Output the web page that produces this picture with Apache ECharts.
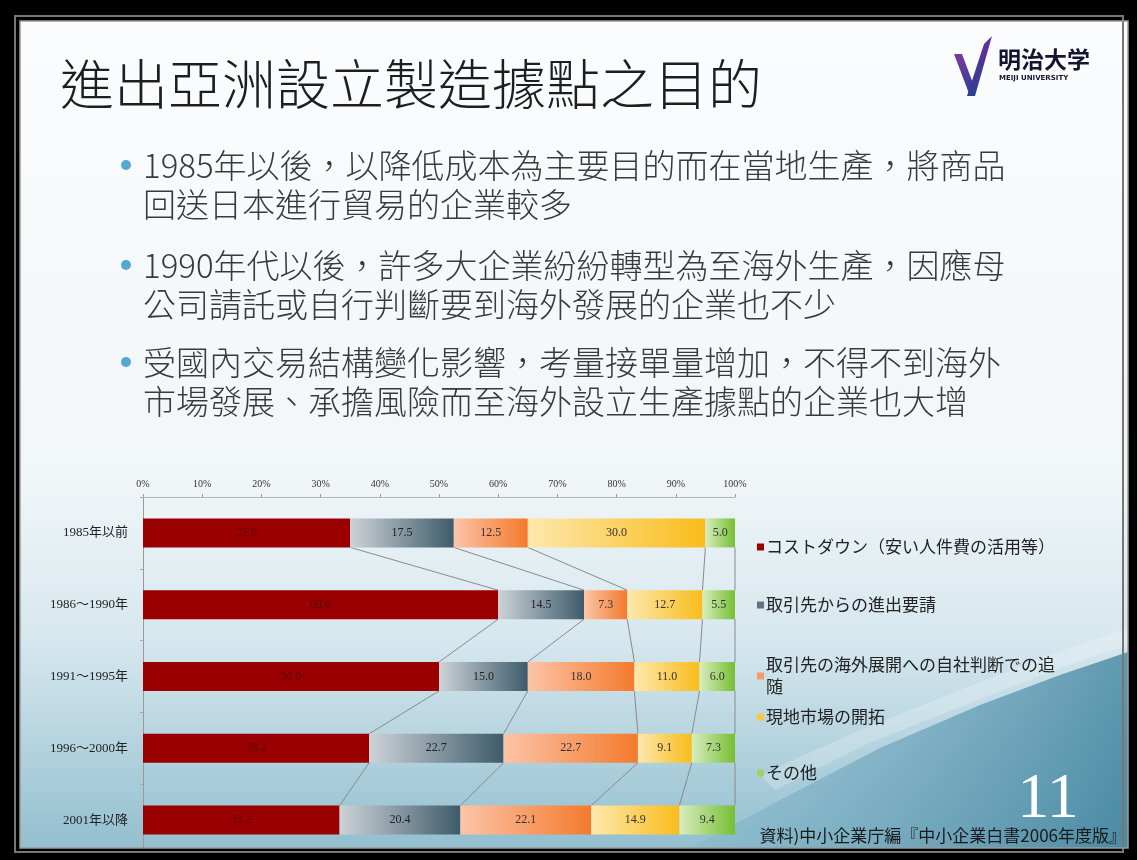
<!DOCTYPE html>
<html>
<head>
<meta charset="utf-8">
<script src="https://cdn.jsdelivr.net/npm/echarts@6/dist/echarts.min.js"></script>
<style>
    html, body { margin: 0; padding: 0; background: #000; }
    #main { width: 1137px; height: 860px; }
</style>
</head>
<body>
<div id="main"></div>
<script>
// 資料
var categories = ['1985年以前', '1986～1990年', '1991～1995年', '1996～2000年', '2001年以降'];
var seriesNames = [
    'コストダウン（安い人件費の活用等）',
    '取引先からの進出要請',
    '取引先の海外展開への自社判断での追随',
    '現地市場の開拓',
    'その他'
];
var costDown      = [35.0, 60.0, 50.0, 38.2, 33.2];
var clientRequest = [17.5, 14.5, 15.0, 22.7, 20.4];
var followClient  = [12.5,  7.3, 18.0, 22.7, 22.1];
var localMarket   = [30.0, 12.7, 11.0,  9.1, 14.9];
var others        = [ 5.0,  5.5,  6.0,  7.3,  9.4];
var xTickLabels   = ['0%', '10%', '20%', '30%', '40%', '50%', '60%', '70%', '80%', '90%', '100%'];

var bulletLines = [
    ['1985年以後，以降低成本為主要目的而在當地生產，將商品', '回送日本進行貿易的企業較多'],
    ['1990年代以後，許多大企業紛紛轉型為至海外生產，因應母', '公司請託或自行判斷要到海外發展的企業也不少'],
    ['受國內交易結構變化影響，考量接單量增加，不得不到海外', '市場發展、承擔風險而至海外設立生產據點的企業也大增']
];

var allValues = [costDown, clientRequest, followClient, localMarket, others];
var barWidth = 29;
var serifFont = '"Liberation Serif", "Noto Sans CJK JP", serif';
var cjkTC = '"Noto Sans CJK TC", sans-serif';
var cjkJP = '"Noto Sans CJK JP", sans-serif';

// 顏色(漸層)
var lg = echarts.graphic.LinearGradient;
var barColors = [
    '#9a0000',
    new lg(0, 0, 1, 0, [{offset: 0, color: '#cdd3d7'}, {offset: 1, color: '#3e5b6b'}]),
    new lg(0, 0, 1, 0, [{offset: 0, color: '#fcc4a8'}, {offset: 1, color: '#f47a2c'}]),
    new lg(0, 0, 1, 0, [{offset: 0, color: '#fde8ae'}, {offset: 1, color: '#f9bc1a'}]),
    new lg(0, 0, 1, 0, [{offset: 0, color: '#d8edbc'}, {offset: 1, color: '#76be33'}])
];
var legendColors = ['#9a0000', '#5e7380', '#f79a6c', '#fbc644', '#9fd26a'];
var labelColors = ['#5c0000', '#222', '#333', '#333', '#333'];

// 累計 -> 系列線
var cum = categories.map(function(c, i) {
    var s = 0;
    return allValues.map(function(arr) { s += arr[i]; return Math.round(s * 10) / 10; });
});
var seriesLineData = [];
for (var k = 0; k < allValues.length; k++) {
    for (var i = 0; i < categories.length - 1; i++) {
        seriesLineData.push([cum[i][k], i, cum[i + 1][k], i + 1]);
    }
}

var series = allValues.map(function(arr, idx) {
    return {
        name: seriesNames[idx],
        type: 'bar',
        stack: 'total',
        barWidth: barWidth,
        itemStyle: { color: barColors[idx] },
        label: {
            show: true,
            position: 'inside',
            fontFamily: serifFont,
            fontSize: 12,
            color: labelColors[idx],
            formatter: function(p) { return p.value.toFixed(1); }
        },
        data: arr
    };
});
series.push({
    type: 'custom',
    name: 'seriesLines',
    silent: true,
    z: 1,
    renderItem: function(params, api) {
        var a = api.coord([api.value(0), api.value(1)]);
        var b = api.coord([api.value(2), api.value(3)]);
        var h = barWidth / 2;
        return {
            type: 'line',
            shape: { x1: a[0], y1: a[1] + h, x2: b[0], y2: b[1] - h },
            style: { stroke: '#8a8a8a', lineWidth: 1 }
        };
    },
    data: seriesLineData
});

// 圖例(各自位置)
var legendCenters = [547, 605, 676, 717, 773];
var legends = seriesNames.map(function(n, idx) {
    var lines = idx === 2 ? 2 : 1;
    return {
        data: [{ name: n, itemStyle: { color: legendColors[idx] } }],
        left: 757,
        top: legendCenters[idx] - lines * 11,
        padding: 0,
        icon: 'rect',
        itemWidth: 7,
        itemHeight: 7,
        itemGap: 0,
        selectedMode: false,
        formatter: function(name) {
            return name === seriesNames[2] ? '取引先の海外展開への自社判断での追\n随' : name;
        },
        textStyle: { fontFamily: cjkJP, fontSize: 17, color: '#222', lineHeight: 22, padding: [0, 0, 0, -3] }
    };
});

// 背景與文字
var graphics = [
    { type: 'rect', z: -20, shape: { x: 20, y: 21, width: 1108, height: 827 },
      style: { fill: new lg(0, 0, 0, 1, [
          {offset: 0, color: '#fbfcfd'}, {offset: 0.55, color: '#f1f6f8'},
          {offset: 0.75, color: '#d6e7ee'}, {offset: 1, color: '#93bfcf'}]) } },
    { type: 'polygon', z: -19, shape: { points: [[690, 848], [780, 800], [880, 748], [980, 705], [1060, 675], [1128, 652], [1128, 848]] },
      style: { fill: new lg(0, 0, 1, 1, [{offset: 0, color: 'rgba(150,195,212,0.55)'}, {offset: 1, color: '#4a8aa3'}]) } },
    { type: 'polygon', z: -18, shape: { points: [[760, 775], [860, 730], [960, 690], [1050, 655], [1128, 628], [1128, 645], [1055, 670], [965, 705], [865, 745], [775, 790]] },
      style: { fill: 'rgba(255,255,255,0.22)' } },
    // 外框
    { type: 'rect', z: 100, shape: { x: 0, y: 0, width: 1137, height: 21 }, style: { fill: '#000' } },
    { type: 'rect', z: 100, shape: { x: 0, y: 848, width: 1137, height: 12 }, style: { fill: '#000' } },
    { type: 'rect', z: 100, shape: { x: 0, y: 0, width: 20, height: 860 }, style: { fill: '#000' } },
    { type: 'rect', z: 100, shape: { x: 1128, y: 0, width: 9, height: 860 }, style: { fill: '#000' } },
    { type: 'rect', z: 101, shape: { x: 15, y: 16, width: 1108, height: 836 }, style: { fill: 'none', stroke: '#777', lineWidth: 2 } },
    { type: 'rect', z: 101, shape: { x: 20, y: 21, width: 1108, height: 827 }, style: { fill: 'none', stroke: '#9a9a9a', lineWidth: 1.5 } },
    // logo
    { type: 'polygon', z: 5, shape: { points: [[954, 54], [962, 54], [974, 86], [970, 96]] },
      style: { fill: new lg(0, 0, 0, 1, [{offset: 0, color: '#7a3a9a'}, {offset: 1, color: '#2a3f95'}]) } },
    { type: 'polygon', z: 5, shape: { points: [[967, 96], [984, 44], [992, 36], [975, 96]] },
      style: { fill: new lg(0, 0, 0, 1, [{offset: 0, color: '#6a2f96'}, {offset: 1, color: '#2a3f95'}]) } },
    { type: 'text', z: 5, x: 998, y: 48, style: { text: '明治大学', fontFamily: cjkJP, fontSize: 23, fontWeight: 'bold', fill: '#151530' } },
    { type: 'text', z: 5, x: 999, y: 75, style: { text: 'MEIJI UNIVERSITY', fontFamily: '"DejaVu Sans", sans-serif', fontSize: 7, fontWeight: 'bold', fill: '#151530' } },
    // 標題
    { type: 'text', z: 5, x: 60, y: 57, style: { text: '進出亞洲設立製造據點之目的', fontFamily: cjkTC, fontSize: 54, fontWeight: 300, fill: '#1e1e1e' } },
    // 頁碼與資料來源
    { type: 'text', z: 5, x: 1048, y: 800, style: { text: '11', fontFamily: '"Liberation Serif", serif', fontSize: 64, fill: '#ffffff', align: 'center', verticalAlign: 'middle' } },
    { type: 'text', z: 5, x: 1126, y: 836, style: { text: '資料)中小企業庁編『中小企業白書2006年度版』', fontFamily: cjkJP, fontSize: 17, fill: '#1a1a1a', align: 'right', verticalAlign: 'middle' } }
];
var bulletY = [165, 265, 362];
bulletLines.forEach(function(lines, b) {
    graphics.push({ type: 'circle', z: 5, shape: { cx: 126, cy: bulletY[b], r: 5 }, style: { fill: '#52a9d2' } });
    lines.forEach(function(t, j) {
        graphics.push({ type: 'text', z: 5, x: 143, y: bulletY[b] + j * 39,
            style: { text: t, fontFamily: cjkTC, fontSize: 33, fontWeight: 300, fill: '#3a3a3a', verticalAlign: 'middle' } });
    });
});

var chart = echarts.init(document.getElementById('main'));
var option = {
    animation: false,
    backgroundColor: '#000',
    graphic: graphics,
    legend: legends,
    grid: { left: 143, right: 402, top: 497, bottom: 4 },
    xAxis: {
        type: 'value',
        position: 'top',
        min: 0,
        max: 100,
        interval: 10,
        splitLine: { show: false },
        axisLine: { show: true, lineStyle: { color: '#b5b5b5' } },
        axisTick: { show: true, length: 3, lineStyle: { color: '#999' } },
        axisLabel: {
            fontFamily: serifFont, fontSize: 10, color: '#333', margin: 8,
            formatter: function(v) { return xTickLabels[Math.round(v / 10)]; }
        }
    },
    yAxis: {
        type: 'category',
        inverse: true,
        data: categories,
        axisLine: { show: true, lineStyle: { color: '#9a9a9a' } },
        axisTick: { show: true, length: 3, lineStyle: { color: '#aaa' } },
        axisLabel: { fontFamily: serifFont, fontSize: 13, color: '#222', margin: 15 }
    },
    series: series
};
chart.setOption(option);
</script>
</body>
</html>
